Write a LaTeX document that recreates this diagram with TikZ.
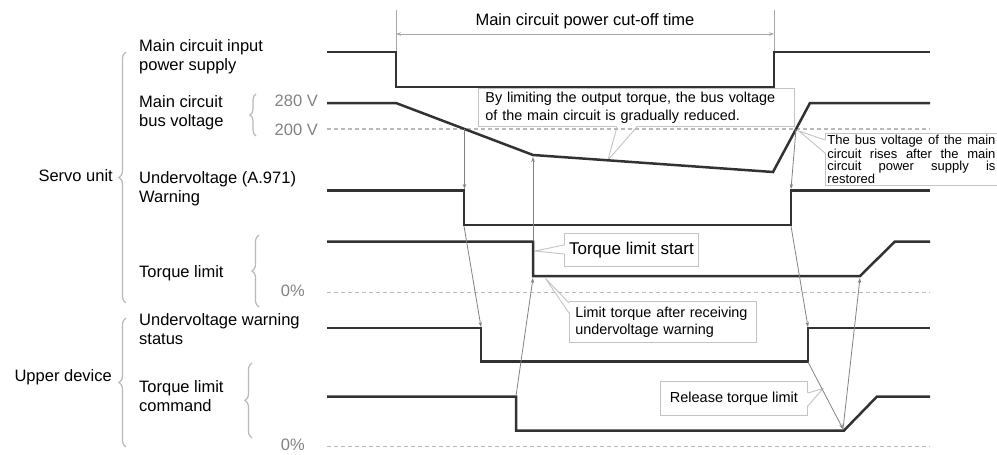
\documentclass[tikz,border=0pt]{standalone}
\usepackage{fontspec}
\setmainfont{Liberation Sans}
\usetikzlibrary{arrows.meta, positioning, decorations.pathreplacing}

\definecolor{SigGray}{RGB}{50, 50, 50}
\definecolor{LinkGray}{RGB}{130, 130, 130}
\definecolor{ZeroGray}{RGB}{185, 185, 185}
\definecolor{BraceGray}{RGB}{185, 185, 185}
\definecolor{TagGray}{RGB}{130, 130, 130}
\definecolor{BoxGray}{RGB}{195, 195, 195}

\newcommand{\fillline}[1]{\leavevmode\hbox to 168pt{#1}}

\begin{document}
\begin{tikzpicture}[x=1pt, y=-1pt, >=Stealth,
    every node/.style={inner sep=0pt},
    sig/.style={draw=SigGray, line width=2.5pt, line join=miter},
    zeroline/.style={draw=ZeroGray, line width=1.4pt, dash pattern=on 4pt off 3pt},
    link/.style={draw=LinkGray, line width=0.8pt, -{Stealth[length=5pt, width=3.5pt]}},
    guide/.style={draw=LinkGray!70, line width=0.8pt},
    grpbrace/.style={draw=BraceGray, line width=1.2pt, decorate, decoration={brace, amplitude=7pt}},
    lbl/.style={font=\fontsize{16.5}{18.8}\selectfont, align=left, anchor=base west},
    tag/.style={font=\fontsize{16.5}{18.8}\selectfont, text=TagGray, anchor=base east},
    callout/.style={draw=BoxGray, fill=white, line width=0.9pt, anchor=north west},
    wedge/.style={draw=BoxGray, line width=0.9pt, line join=miter}
]
\useasboundingbox (0,0) rectangle (997,455);

% cut-off time
\coordinate (cutL) at (396,34);
\coordinate (cutR) at (774,34);
\draw[guide] (396,10) -- (396,52);
\draw[guide] (774,10) -- (774,52);
\draw[guide, <->, >={Stealth[length=5pt, width=3.5pt]}] (cutL) -- (cutR);
\node[lbl, anchor=base] (cuttime) at (585,25) {Main circuit power cut-off time};

% callouts
\node[callout, text width=302pt, inner xsep=7pt, minimum height=38pt, align=left,
      font=\fontsize{14.4}{18}\selectfont] (noteA) at (478,88)
      {By limiting the output torque, the bus voltage\\of the main circuit is gradually reduced.};
\coordinate (tipA) at (608,160);
\fill[white] ([xshift=139pt, yshift=1pt]noteA.south west) -- (tipA) -- ([xshift=159pt, yshift=1pt]noteA.south west) -- cycle;
\draw[wedge] ([xshift=139pt]noteA.south west) -- (tipA) -- ([xshift=159pt]noteA.south west);

\node[callout, text width=172pt, inner xsep=2pt, minimum height=52pt, align=left,
      font=\fontsize{13}{12}\selectfont] (noteB) at (825,133)
      {\fillline{The\hfill bus\hfill voltage\hfill of\hfill the\hfill main}\\
       \fillline{circuit\hfill rises\hfill after\hfill the\hfill main}\\
       \fillline{circuit\hfill power\hfill supply\hfill is}\\
       restored};
\coordinate (tipB) at (799,131);
\fill[white] ([xshift=1pt, yshift=-7pt]noteB.north west) -- (tipB) -- ([xshift=1pt, yshift=-20pt]noteB.north west) -- cycle;
\draw[wedge] ([yshift=-7pt]noteB.north west) -- (tipB) -- ([yshift=-20pt]noteB.north west);

\node[callout, minimum width=134pt, minimum height=33pt,
      font=\fontsize{17}{19}\selectfont] (noteC) at (564,233) {Torque limit start};
\coordinate (tipC) at (535,251);
\fill[white] ([xshift=1pt, yshift=-12pt]noteC.north west) -- (tipC) -- ([xshift=1pt, yshift=-21pt]noteC.north west) -- cycle;
\draw[wedge] ([yshift=-12pt]noteC.north west) -- (tipC) -- ([yshift=-21pt]noteC.north west);

\node[callout, text width=175pt, inner xsep=6pt, minimum height=41pt, align=left,
      font=\fontsize{14.4}{17}\selectfont] (noteD) at (569,301)
      {Limit torque after receiving\\undervoltage warning};
\coordinate (tipD) at (545.5,278.5);
\fill[white] ([xshift=1pt, yshift=-2pt]noteD.north west) -- (tipD) -- ([xshift=1pt, yshift=-12pt]noteD.north west) -- cycle;
\draw[wedge] ([yshift=-2pt]noteD.north west) -- (tipD) -- ([yshift=-12pt]noteD.north west);

\node[callout, minimum width=147pt, minimum height=34pt,
      font=\fontsize{14.5}{17}\selectfont] (noteE) at (660,381) {Release torque limit};
\coordinate (tipE) at (823,388.5);
\fill[white] ([xshift=-1pt, yshift=-12pt]noteE.north east) -- (tipE) -- ([xshift=-1pt, yshift=-25pt]noteE.north east) -- cycle;
\draw[wedge] ([yshift=-12pt]noteE.north east) -- (tipE) -- ([yshift=-25pt]noteE.north east);

% labels (base = last line)
\node[lbl] (lpow) at (139,70) {Main circuit input\\power supply};
\node[lbl] (lbus) at (139,126.5) {Main circuit\\bus voltage};
\node[lbl] (lwarn) at (139,202.5) {Undervoltage (A.971)\\Warning};
\node[lbl] (ltrq) at (139,277.3) {Torque limit};
\node[lbl] (lstat) at (139,344.5) {Undervoltage warning\\status};
\node[lbl] (lcmd) at (139,411.7) {Torque limit\\command};
\node[lbl, anchor=base east] (servo) at (113,181.7) {Servo unit};
\node[lbl, anchor=base east] (upper) at (112,381.7) {Upper device};

\node[tag] (v280) at (318,106.7) {280 V};
\node[tag] (v200) at (318,135) {200 V};
\node[tag] (ztrq) at (305,296.7) {0\%};
\node[tag] (zcmd) at (305,450.5) {0\%};

% braces
\draw[grpbrace] (126,303) -- (126,52);
\draw[grpbrace] (126,447) -- (126,318);
\draw[grpbrace, decoration={amplitude=6pt}] (256,136) -- (256,94);
\draw[grpbrace] (259,307) -- (259,235);
\draw[grpbrace] (252,438) -- (252,363);

% zero levels
\draw[zeroline] (327,129) -- (930,129);
\draw[zeroline] (327,292.5) -- (930,292.5);
\draw[zeroline] (327,446.5) -- (930,446.5);

% signals
\draw[sig] (327,52) -- (396,52) -- (396,87) -- (774,87) -- (774,52) -- (930,52);
\draw[sig] (327,103) -- (396,103) -- (533,155) -- (773,172) -- (810,103) -- (930,103);
\draw[sig] (327,190.5) -- (464,190.5) -- (464,225) -- (791,225) -- (791,190.5) -- (930,190.5);
\draw[sig] (327,241.5) -- (533,241.5) -- (533,276) -- (860,276) -- (895,241.5) -- (930,241.5);
\draw[sig] (327,328) -- (481,328) -- (481,361.5) -- (808,361.5) -- (808,328) -- (930,328);
\draw[sig] (327,396.5) -- (516,396.5) -- (516,430.5) -- (844,430.5) -- (877,396.5) -- (930,396.5);

% cause and effect
\coordinate (busdrop) at (464.5,129);
\coordinate (warnfall) at (464.5,189);
\coordinate (warnlow) at (464,226);
\coordinate (statfall) at (481,327);
\coordinate (cmdfall) at (516,396);
\coordinate (trqlow) at (533,278);
\coordinate (trqfall) at (533,241);
\coordinate (busknee) at (533,157);
\coordinate (busrise) at (796,129);
\coordinate (warnrise) at (791,189);
\coordinate (warnhigh) at (791,226);
\coordinate (statrise) at (808,327);
\coordinate (statlow) at (808,362);
\coordinate (cmdramp) at (843,429);
\coordinate (trqramp) at (860,278);
\draw[link] (busdrop) -- (warnfall);
\draw[link] (warnlow) -- (statfall);
\draw[link] (cmdfall) -- (trqlow);
\draw[link] (trqfall) -- (busknee);
\draw[link] (busrise) -- (warnrise);
\draw[link] (warnhigh) -- (statrise);
\draw[link] (statlow) -- (cmdramp);
\draw[link] (cmdramp) -- (trqramp);
\end{tikzpicture}
\end{document}
